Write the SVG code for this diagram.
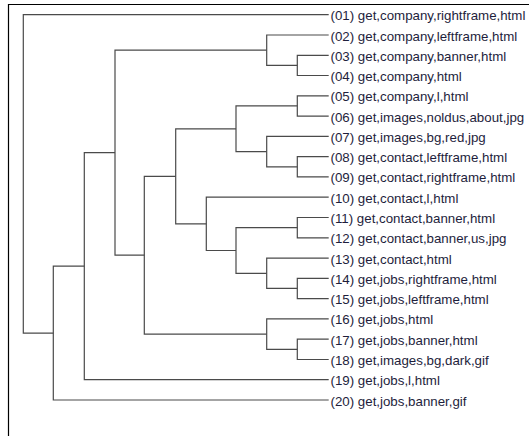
<svg xmlns="http://www.w3.org/2000/svg" width="529" height="436" viewBox="0 0 529 436">
<style>
.frame{fill:none;stroke:#000;stroke-width:1.2}
.br{fill:none;stroke:#4a4a4a;stroke-width:1.2}
.lbl{font-family:"Liberation Sans",Arial,sans-serif;font-size:13.3px;fill:#1e1e3c}
</style>
<rect width="529" height="436" fill="#fff"/>
<path class="frame" d="M8.5 436 V4.5 H529"/>
<g id="connectors">
<path class="br" d="M328.7 55.3 H297.3 V75.5 H328.7"/>
<path class="br" d="M328.7 35 H266.7 V65.4 H297.3"/>
<path class="br" d="M328.7 95.8 H297.3 V116.1 H328.7"/>
<path class="br" d="M328.7 156.7 H297.3 V176.9 H328.7"/>
<path class="br" d="M328.7 136.4 H266.7 V166.8 H297.3"/>
<path class="br" d="M297.3 105.95 H236 V151.6 H266.7"/>
<path class="br" d="M328.7 217.5 H297.3 V237.8 H328.7"/>
<path class="br" d="M328.7 278.3 H297.3 V298.6 H328.7"/>
<path class="br" d="M328.7 258.1 H266.7 V288.45 H297.3"/>
<path class="br" d="M297.3 227.65 H236 V273.3 H266.7"/>
<path class="br" d="M328.7 197.2 H206.3 V250.5 H236"/>
<path class="br" d="M236 128.8 H175.7 V223.85 H206.3"/>
<path class="br" d="M328.7 339.2 H297.3 V359.5 H328.7"/>
<path class="br" d="M328.7 318.9 H266.7 V349.35 H297.3"/>
<path class="br" d="M175.7 176.3 H144.3 V334.1 H266.7"/>
<path class="br" d="M266.7 50.2 H115 V255.2 H144.3"/>
<path class="br" d="M115 152.7 H84.3 V379.7 H328.7"/>
<path class="br" d="M84.3 266.2 H53.3 V400 H328.7"/>
<path class="br" d="M328.7 14.7 H23.3 V333.1 H53.3"/>
</g>
<g id="leaf01"><text class="lbl" x="330.5" y="20.2">(01) get,company,rightframe,html</text></g>
<g id="leaf02"><text class="lbl" x="330.5" y="40.5">(02) get,company,leftframe,html</text></g>
<g id="leaf03"><text class="lbl" x="330.5" y="60.8">(03) get,company,banner,html</text></g>
<g id="leaf04"><text class="lbl" x="330.5" y="81.0">(04) get,company,html</text></g>
<g id="leaf05"><text class="lbl" x="330.5" y="101.3">(05) get,company,l,html</text></g>
<g id="leaf06"><text class="lbl" x="330.5" y="121.6">(06) get,images,noldus,about,jpg</text></g>
<g id="leaf07"><text class="lbl" x="330.5" y="141.9">(07) get,images,bg,red,jpg</text></g>
<g id="leaf08"><text class="lbl" x="330.5" y="162.2">(08) get,contact,leftframe,html</text></g>
<g id="leaf09"><text class="lbl" x="330.5" y="182.4">(09) get,contact,rightframe,html</text></g>
<g id="leaf10"><text class="lbl" x="330.5" y="202.7">(10) get,contact,l,html</text></g>
<g id="leaf11"><text class="lbl" x="330.5" y="223.0">(11) get,contact,banner,html</text></g>
<g id="leaf12"><text class="lbl" x="330.5" y="243.3">(12) get,contact,banner,us,jpg</text></g>
<g id="leaf13"><text class="lbl" x="330.5" y="263.6">(13) get,contact,html</text></g>
<g id="leaf14"><text class="lbl" x="330.5" y="283.8">(14) get,jobs,rightframe,html</text></g>
<g id="leaf15"><text class="lbl" x="330.5" y="304.1">(15) get,jobs,leftframe,html</text></g>
<g id="leaf16"><text class="lbl" x="330.5" y="324.4">(16) get,jobs,html</text></g>
<g id="leaf17"><text class="lbl" x="330.5" y="344.7">(17) get,jobs,banner,html</text></g>
<g id="leaf18"><text class="lbl" x="330.5" y="365.0">(18) get,images,bg,dark,gif</text></g>
<g id="leaf19"><text class="lbl" x="330.5" y="385.2">(19) get,jobs,l,html</text></g>
<g id="leaf20"><text class="lbl" x="330.5" y="405.5">(20) get,jobs,banner,gif</text></g>
</svg>
